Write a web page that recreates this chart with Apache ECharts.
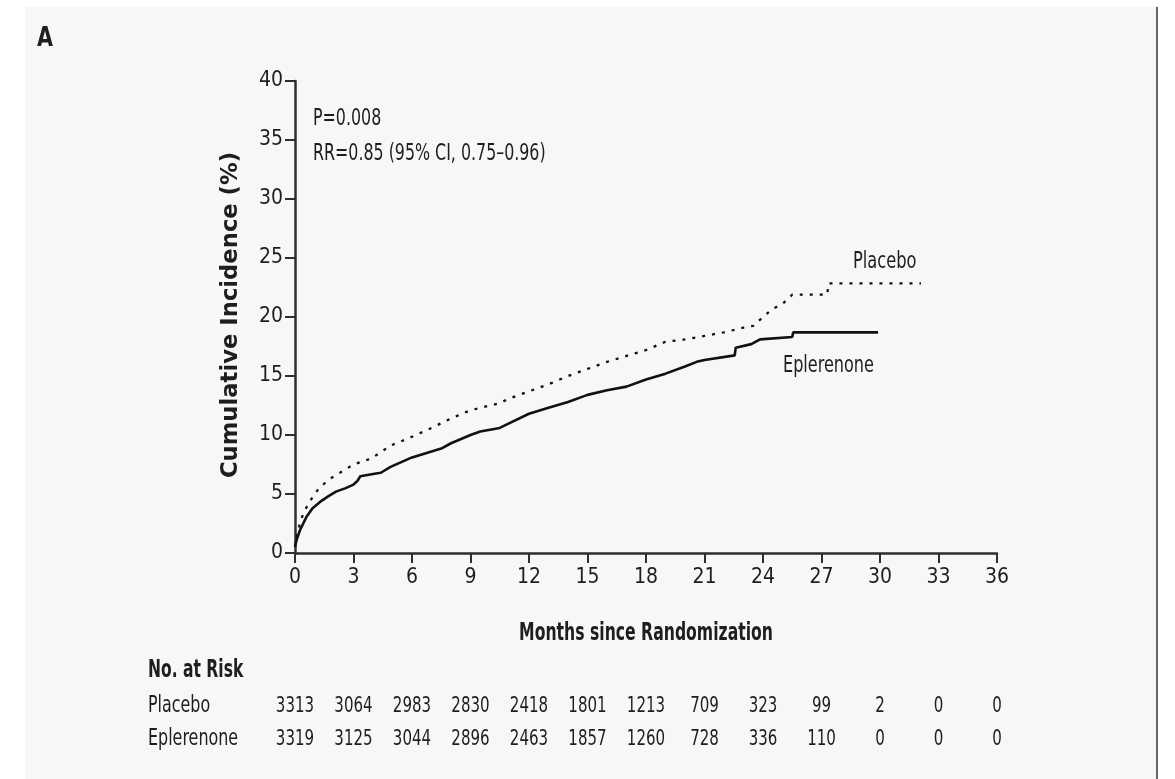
<!DOCTYPE html>
<html>
<head>
<meta charset="utf-8">
<script src="https://cdn.jsdelivr.net/npm/echarts@6/dist/echarts.min.js"></script>
<style>
  html, body { margin: 0; padding: 0; background: #ffffff; }
  #panel { position: absolute; left: 25px; top: 7px; width: 1131px; height: 772px; background: #f7f7f7; border-right: 2px solid #666; }
  #chart { position: absolute; left: 0; top: 0; width: 1175px; height: 779px; }
</style>
</head>
<body>
<div id="panel"></div>
<div id="chart"></div>
<script>
// ---- Data ----
const xTicks = [0, 3, 6, 9, 12, 15, 18, 21, 24, 27, 30, 33, 36];

const placeboMonths = [0, 0.1, 0.3, 0.5, 0.7, 1.0, 1.3, 1.8, 2.3, 2.7, 3.0, 3.9, 4.9, 6.0, 7.0, 8.0, 9.0, 10.0, 10.5, 11.0, 12.0, 13.0, 14.0, 15.0, 16.0, 17.0, 18.0, 19.0, 20.0, 21.0, 22.0, 23.0, 23.5, 24.0, 24.5, 25.0, 25.5, 27.3, 27.35, 32.1];
const placeboPct    = [0.5, 1.5, 2.8, 3.6, 4.2, 5.0, 5.6, 6.3, 6.8, 7.2, 7.5, 8.0, 9.1, 9.85, 10.6, 11.4, 12.1, 12.5, 12.7, 13.1, 13.7, 14.3, 15.0, 15.6, 16.2, 16.7, 17.2, 17.9, 18.1, 18.4, 18.7, 19.1, 19.25, 20.0, 20.7, 21.1, 21.9, 21.9, 22.85, 22.85];

const eplerenoneMonths = [0, 0.1, 0.26, 0.6, 0.9, 1.3, 1.7, 2.1, 2.6, 3.0, 3.2, 3.35, 4.0, 4.4, 4.9, 6.0, 7.0, 7.5, 8.0, 9.0, 9.5, 10.5, 11.0, 12.0, 13.0, 14.0, 15.0, 16.0, 17.0, 18.0, 19.0, 20.0, 20.6, 21.0, 22.55, 22.6, 23.4, 23.85, 25.5, 25.55, 29.9];
const eplerenonePct    = [0.6, 1.2, 1.95, 3.1, 3.8, 4.35, 4.8, 5.2, 5.5, 5.8, 6.1, 6.5, 6.7, 6.8, 7.3, 8.1, 8.6, 8.85, 9.3, 10.0, 10.3, 10.6, 11.0, 11.8, 12.3, 12.8, 13.4, 13.8, 14.1, 14.7, 15.2, 15.8, 16.2, 16.35, 16.75, 17.4, 17.7, 18.1, 18.3, 18.7, 18.7];

const riskRowLabels = ['Placebo', 'Eplerenone'];
const riskPlacebo    = [3313, 3064, 2983, 2830, 2418, 1801, 1213, 709, 323, 99, 2, 0, 0];
const riskEplerenone = [3319, 3125, 3044, 2896, 2463, 1857, 1260, 728, 336, 110, 0, 0, 0];

// ---- Chart ----
const COND = "'DejaVu Sans Condensed','Liberation Sans Narrow',sans-serif";
const WIDE = "'DejaVu Sans','Verdana',sans-serif";
const TXT = '#1e1e1e';

const pairs = (xs, ys) => xs.map((x, i) => [x, ys[i]]);

const chart = echarts.init(document.getElementById('chart'), null, { renderer: 'canvas' });

const option = {
  backgroundColor: 'transparent',
  animation: false,
  grid: { left: 295, top: 81, right: 178, bottom: 226, containLabel: false },
  xAxis: {
    type: 'value', min: 0, max: 36, interval: 3,
    axisLine: { show: true, onZero: false, lineStyle: { color: '#2e2e2e', width: 2.5 } },
    axisTick: { show: true, length: 10, lineStyle: { color: '#2e2e2e', width: 2 } },
    axisLabel: { color: TXT, fontFamily: COND, fontSize: 21, margin: 14 },
    splitLine: { show: false }
  },
  yAxis: {
    type: 'value', min: 0, max: 40, interval: 5,
    axisLine: { show: true, lineStyle: { color: '#2e2e2e', width: 2.5 } },
    axisTick: { show: true, length: 10, lineStyle: { color: '#2e2e2e', width: 2 } },
    axisLabel: { color: TXT, fontFamily: COND, fontSize: 21, margin: 12 },
    splitLine: { show: false }
  },
  series: [
    {
      name: 'Placebo', type: 'line', showSymbol: false, symbol: 'none',
      data: pairs(placeboMonths, placeboPct),
      lineStyle: { color: '#111', width: 2.3, type: [3, 7], cap: 'butt' },
      z: 3
    },
    {
      name: 'Eplerenone', type: 'line', showSymbol: false, symbol: 'none',
      data: pairs(eplerenoneMonths, eplerenonePct),
      lineStyle: { color: '#111', width: 2.6, type: 'solid' },
      z: 4
    }
  ],
  graphic: []
};

chart.setOption(option);

// ---- Text, annotations and risk table (risk columns aligned through the x axis scale) ----
const g = [];
const txt = (text, x, y, size, sx, opts) => g.push({
  type: 'text', x: x, y: y, scaleX: sx, silent: true,
  style: Object.assign({ text: text, fill: TXT, fontFamily: COND, fontSize: size, textAlign: 'left', textVerticalAlign: 'middle' }, opts || {})
});

txt('A', 37, 39, 27, 0.85, { fontWeight: 'bold' });

g.push({ type: 'text', x: 231, y: 315, rotation: Math.PI / 2, silent: true,
  style: { text: 'Cumulative Incidence (%)', fill: TXT, fontFamily: WIDE, fontSize: 22.7, fontWeight: 'bold', textAlign: 'center', textVerticalAlign: 'middle' } });

txt('Months since Randomization', 646, 634, 24, 0.725, { fontWeight: 'bold', textAlign: 'center' });
txt('P=0.008', 313, 119, 23.5, 0.75);
txt('RR=0.85 (95% CI, 0.75\u20130.96)', 313, 154, 23.5, 0.75);
txt('Placebo', 853, 262, 23.5, 0.77);
txt('Eplerenone', 783, 366, 23.5, 0.76);

txt('No. at Risk', 148, 671, 24, 0.72, { fontWeight: 'bold' });
txt(riskRowLabels[0], 148, 706, 23, 0.77);
txt(riskRowLabels[1], 148, 739, 23, 0.77);

xTicks.forEach((m, i) => {
  const px = chart.convertToPixel({ xAxisIndex: 0 }, m);
  txt(String(riskPlacebo[i]), px, 706, 22, 0.76, { textAlign: 'center' });
  txt(String(riskEplerenone[i]), px, 739, 22, 0.76, { textAlign: 'center' });
});

chart.setOption({ graphic: g });
</script>
</body>
</html>
